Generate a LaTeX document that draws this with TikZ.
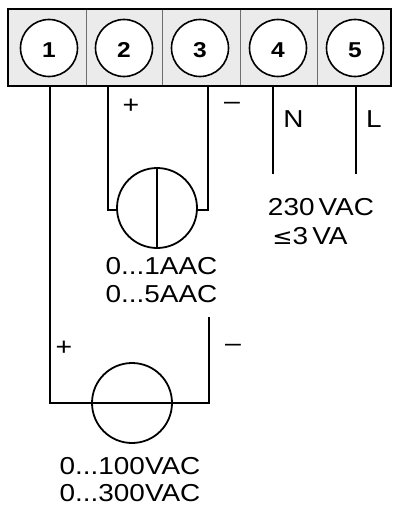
\documentclass[tikz,border=0pt]{standalone}
\usepackage{fontspec}
\setmainfont{Liberation Sans}
\newfontfamily\lblfont[FakeStretch=1.14]{Liberation Sans}
\newfontfamily\symfont[FakeStretch=1.1]{DejaVu Sans}
\definecolor{blockgray}{HTML}{EBEBEB}
\definecolor{divgray}{HTML}{6E6E6E}
\begin{document}
\begin{tikzpicture}[x=1pt,y=-1pt,
  wire/.style={line width=2pt,line join=miter},
  term/.style={circle,draw,line width=1.6pt,fill=white,minimum size=57pt,inner sep=0pt},
  num/.style={font=\lblfont\fontsize{21.5}{21.5}\selectfont\bfseries,inner sep=0pt,anchor=base},
  meter/.style={circle,draw,line width=1.8pt,fill=white,minimum size=80pt,inner sep=0pt},
  lbl/.style={font=\lblfont\fontsize{24.5}{24.5}\selectfont,inner sep=0pt,anchor=base},
  sgn/.style={font=\lblfont\fontsize{25}{25}\selectfont,inner sep=0pt}]
\useasboundingbox (0,0) rectangle (392,506);
% terminal block
\fill[blockgray] (8,9) rectangle (391,86);
\foreach \x in {86,162,240,317} \draw[divgray,line width=1pt] (\x,9) -- (\x,86);
\draw[line width=2pt] (8,9) rectangle (391,86);
\node[term] (t1) at (49,48) {};
\node[term] (t2) at (124,48) {};
\node[term] (t3) at (200,48) {};
\node[term] (t4) at (278,48) {};
\node[term] (t5) at (355,48) {};
\node[num] (n1) at (49,57.5) {1};
\node[num] (n2) at (124,57.5) {2};
\node[num] (n3) at (200,57.5) {3};
\node[num] (n4) at (278,57.5) {4};
\node[num] (n5) at (355,57.5) {5};
% wire start points on block bottom
\coordinate (b1) at (50,86);
\coordinate (b2) at (108,86);
\coordinate (b3) at (208,86);
\coordinate (b4) at (273,86);
\coordinate (b5) at (356,86);
% current meter
\node[meter] (am) at (157,208) {};
\coordinate (amL) at ([yshift=-2pt]am.west);
\coordinate (amR) at ([yshift=-2pt]am.east);
\draw[wire] (am.north) -- (am.south);
\draw[wire] (b2) |- (amL);
\draw[wire] (b3) |- (amR);
% supply
\coordinate (e4) at (273,174);
\coordinate (e5) at (356,174);
\draw[wire] (b4) -- (e4);
\draw[wire] (b5) -- (e5);
% voltage meter
\node[meter] (vm) at (132,403) {};
\coordinate (vr) at (209,403);
\coordinate (vt) at (209,317);
\draw[wire] (b1) |- (vr) -- (vt);
% labels
\node[sgn] (p2) at (131,106) {+};
\node[sgn] (m3) at (232,106) {–};
\node[lbl] (lN) at (293.5,127) {N};
\node[lbl,anchor=base west] (lL) at (366,127) {L};
\node[lbl] (s1) at (321,215) {230\,VAC};
\node[lbl] (s2) at (310,244) {{\symfont\fontsize{22}{22}\selectfont ≤}3\,VA};
\node[lbl] (a1) at (161.5,274) {0...1AAC};
\node[lbl] (a2) at (161.5,302) {0...5AAC};
\node[sgn] (p1) at (64,348) {+};
\node[sgn] (m1) at (233,348) {–};
\node[lbl] (v1) at (130,474) {0...100VAC};
\node[lbl] (v2) at (130,501) {0...300VAC};
\end{tikzpicture}
\end{document}
